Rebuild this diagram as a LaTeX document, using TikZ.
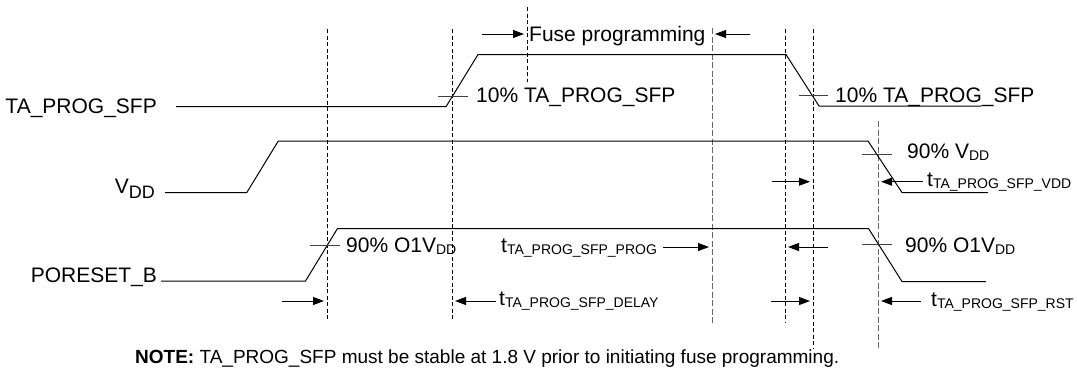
\documentclass[tikz,border=0pt]{standalone}
\usepackage{fontspec}
\setmainfont{Liberation Sans}
\usetikzlibrary{arrows.meta}

\newcommand{\lblfont}{\fontsize{21}{24}\selectfont}
\newcommand{\tsub}[1]{t\raisebox{-2pt}{\fontsize{14}{14}\selectfont #1}}
\newcommand{\vsub}[1]{V\raisebox{-2pt}{\fontsize{14}{14}\selectfont #1}}

\begin{document}
\begin{tikzpicture}[x=1pt, y=-1pt,
    signal/.style={line width=1pt, line join=round},
    guide/.style={line width=0.8pt, dash pattern=on 4pt off 2.5pt},
    guidegray/.style={line width=0.9pt, black!60, dash pattern=on 6pt off 2.5pt},
    tickmark/.style={line width=0.9pt, black!75},
    dim/.style={line width=0.9pt, shorten >=3pt, -{Triangle[length=11pt,width=8pt]}},
    txt/.style={font=\lblfont, inner sep=0pt}]

    \useasboundingbox (0,0) rectangle (1077,368);

    % 1. Hilfslinien (gestrichelt)
    \coordinate (gPorUp) at (327,29);
    \coordinate (gTaUp)  at (452,29);
    \coordinate (gFuseA) at (527,7);
    \coordinate (gFuseB) at (712,28);
    \coordinate (gTaDnA) at (785,29);
    \coordinate (gTaDnB) at (813,29);
    \coordinate (gVddDn) at (878,121);

    \draw[guide] (gPorUp) -- (327,321);
    \draw[guide] (gTaUp) -- (452,321);
    \draw[guide] (gFuseA) -- (527,82);
    \draw[guidegray] (gFuseB) -- (712,323);
    \draw[guide] (gTaDnA) -- (785,323);
    \draw[guide] (gTaDnB) -- (813,348);
    \draw[guidegray] (gVddDn) -- (878,348);

    % 2. Signalverlaeufe
    \draw[signal] (176,106.7) -- (446,106.7) -- (478,54.5) -- (786,54.5) -- (819,106) -- (981,106);
    \draw[signal] (165,192.7) -- (246.7,192.7) -- (278.3,141) -- (868,141) -- (902,192.5) -- (988,192.5);
    \draw[signal] (161,281) -- (305.5,281) -- (337.5,228.5) -- (868.5,228.5) -- (902,281.5) -- (986,281.5);

    % Signalnamen
    \node[txt, anchor=base east] (lTaProg) at (157,113) {TA\_PROG\_SFP};
    \node[txt, anchor=base east] (lVdd) at (155,193) {V\raisebox{-5pt}{\fontsize{18}{18}\selectfont DD}};
    \node[txt, anchor=base east] (lPor) at (157,282) {PORESET\_B};

    % 3. Schwellen (kurze Querstriche) mit Beschriftung
    \draw[tickmark] (438,96) -- (468,96);
    \node[txt, anchor=base west] (lTaUp) at (476,102) {10\% TA\_PROG\_SFP};
    \draw[tickmark] (799,95.3) -- (828,95.3);
    \node[txt, anchor=base west] (lTaDn) at (835,102) {10\% TA\_PROG\_SFP};
    \draw[tickmark] (862,154) -- (892,154);
    \node[txt, anchor=base west] (lVddDn) at (907,158.5) {90\% \vsub{DD}};
    \draw[tickmark] (310,245.5) -- (340,245.5);
    \node[txt, anchor=base west] (lPorUp) at (346,252) {90\% O1\vsub{DD}};
    \draw[tickmark] (862,244.6) -- (892,244.6);
    \node[txt, anchor=base west] (lPorDn) at (905,252) {90\% O1\vsub{DD}};

    % 4. Zeitintervalle
    \node[txt, anchor=base west] (lFuse) at (529,41) {Fuse programming};
    \draw[dim] (482,34) coordinate (aFuseA) -- (aFuseA -| gFuseA);
    \draw[dim] (750,34) coordinate (aFuseB) -- (aFuseB -| gFuseB);

    \draw[dim] (772,181.7) coordinate (aVddA) -- (aVddA -| gTaDnB);
    \draw[dim] (923,181.7) coordinate (aVddB) -- (aVddB -| gVddDn);
    \node[txt, anchor=base west] (tVdd) at (927,186) {\tsub{TA\_PROG\_SFP\_VDD}};

    \node[txt, anchor=base west] (tProg) at (501,252.5) {\tsub{TA\_PROG\_SFP\_PROG}};
    \draw[dim] (663,247) coordinate (aProgA) -- (aProgA -| gFuseB);
    \draw[dim] (828,247) coordinate (aProgB) -- (aProgB -| gTaDnA);

    \draw[dim] (282,301) coordinate (aDelA) -- (aDelA -| gPorUp);
    \draw[dim] (496,301) coordinate (aDelB) -- (aDelB -| gTaUp);
    \node[txt, anchor=base west] (tDelay) at (499,305.5) {\tsub{TA\_PROG\_SFP\_DELAY}};

    \draw[dim] (771,301) coordinate (aRstA) -- (aRstA -| gTaDnB);
    \draw[dim] (921,301) coordinate (aRstB) -- (aRstB -| gVddDn);
    \node[txt, anchor=base west] (tRst) at (931,306) {\tsub{TA\_PROG\_SFP\_RST}};

    % 5. Hinweis
    \node[inner sep=0pt, anchor=base west, font=\fontsize{19}{22}\selectfont] (note) at (135,363)
        {\textbf{NOTE:} TA\_PROG\_SFP must be stable at 1.8 V prior to initiating fuse programming.};

\end{tikzpicture}
\end{document}
